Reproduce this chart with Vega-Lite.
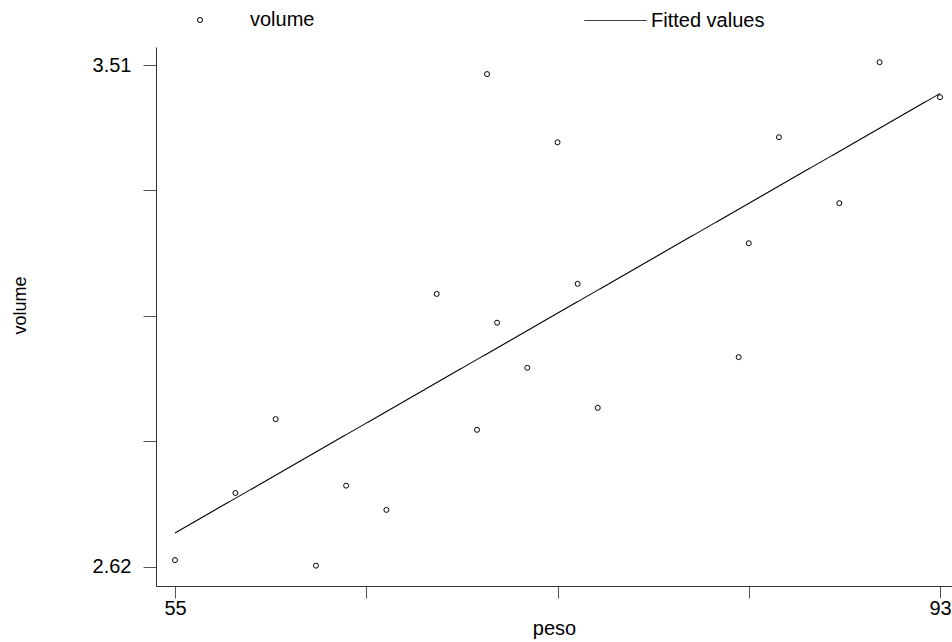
{
  "$schema": "https://vega.github.io/schema/vega-lite/v6.json",
  "width": 796,
  "height": 539,
  "autosize": {"type": "none"},
  "padding": {"left": 156, "top": 47, "right": 0, "bottom": 56},
  "background": "white",
  "config": {"view": {"stroke": null}, "font": "Liberation Sans"},
  "data": {
    "values": [
      {"peso": 55, "volume": 2.632},
      {"peso": 58, "volume": 2.751},
      {"peso": 60, "volume": 2.882},
      {"peso": 62, "volume": 2.622},
      {"peso": 63.5, "volume": 2.764},
      {"peso": 65.5, "volume": 2.721},
      {"peso": 68, "volume": 3.104},
      {"peso": 70, "volume": 2.863},
      {"peso": 70.5, "volume": 3.494},
      {"peso": 71, "volume": 3.053},
      {"peso": 72.5, "volume": 2.973},
      {"peso": 74, "volume": 3.373},
      {"peso": 75, "volume": 3.122},
      {"peso": 76, "volume": 2.902},
      {"peso": 83, "volume": 2.992},
      {"peso": 83.5, "volume": 3.194},
      {"peso": 85, "volume": 3.382},
      {"peso": 88, "volume": 3.265},
      {"peso": 90, "volume": 3.515},
      {"peso": 93, "volume": 3.453}
    ]
  },
  "layer": [
    {
      "mark": {"type": "point", "filled": false, "size": 25, "strokeWidth": 1, "color": "black", "opacity": 1},
      "encoding": {
        "x": {
          "field": "peso", "type": "quantitative",
          "scale": {"domain": [54.056, 93.596], "nice": false, "zero": false},
          "axis": {
            "values": [55, 64.5, 74, 83.5, 93],
            "labelExpr": "datum.value == 55 || datum.value == 93 ? datum.label : ''",
            "title": "peso", "grid": false,
            "tickSize": 12, "labelPadding": 0,
            "labelFontSize": 20, "titleFontSize": 20, "titleFontWeight": "normal",
            "titlePadding": 0,
            "domainColor": "#333333", "tickColor": "#555555",
            "labelColor": "black", "titleColor": "black"
          }
        },
        "y": {
          "field": "volume", "type": "quantitative",
          "scale": {"domain": [2.586, 3.542], "nice": false, "zero": false},
          "axis": {
            "values": [2.62, 2.8425, 3.065, 3.2875, 3.51],
            "labelExpr": "datum.value == 2.62 || datum.value == 3.51 ? format(datum.value, '.2f') : ''",
            "title": "volume", "grid": false,
            "tickSize": 13, "labelPadding": 12,
            "labelFontSize": 20, "titleFontSize": 18, "titleFontWeight": "normal",
            "titlePadding": 63, "titleY": 258,
            "domainColor": "#333333", "tickColor": "#555555",
            "labelColor": "black", "titleColor": "black"
          }
        },
        "shape": {
          "datum": "volume",
          "scale": {"domain": ["volume"], "range": ["circle"]},
          "legend": {
            "title": null,
            "orient": "none",
            "legendX": 34,
            "legendY": -37,
            "padding": 0,
            "symbolSize": 25,
            "symbolStrokeWidth": 1,
            "symbolStrokeColor": "black",
            "symbolFillColor": "transparent",
            "labelOffset": 40,
            "labelFontSize": 20,
            "labelColor": "black"
          }
        }
      }
    },
    {
      "transform": [{"regression": "volume", "on": "peso", "extent": [55, 93]}],
      "mark": {"type": "line", "color": "black", "strokeWidth": 1.1},
      "encoding": {
        "x": {"field": "peso", "type": "quantitative"},
        "y": {"field": "volume", "type": "quantitative"},
        "strokeDash": {
          "datum": "Fitted values",
          "scale": {"domain": ["Fitted values"], "range": [[1, 0]]},
          "legend": {
            "title": null,
            "orient": "none",
            "legendX": 428,
            "legendY": -58,
            "padding": 0,
            "symbolType": "stroke",
            "symbolSize": 3844,
            "symbolStrokeWidth": 1,
            "symbolStrokeColor": "black",
            "labelOffset": 4,
            "labelFontSize": 20,
            "labelColor": "black"
          }
        }
      }
    }
  ]
}
